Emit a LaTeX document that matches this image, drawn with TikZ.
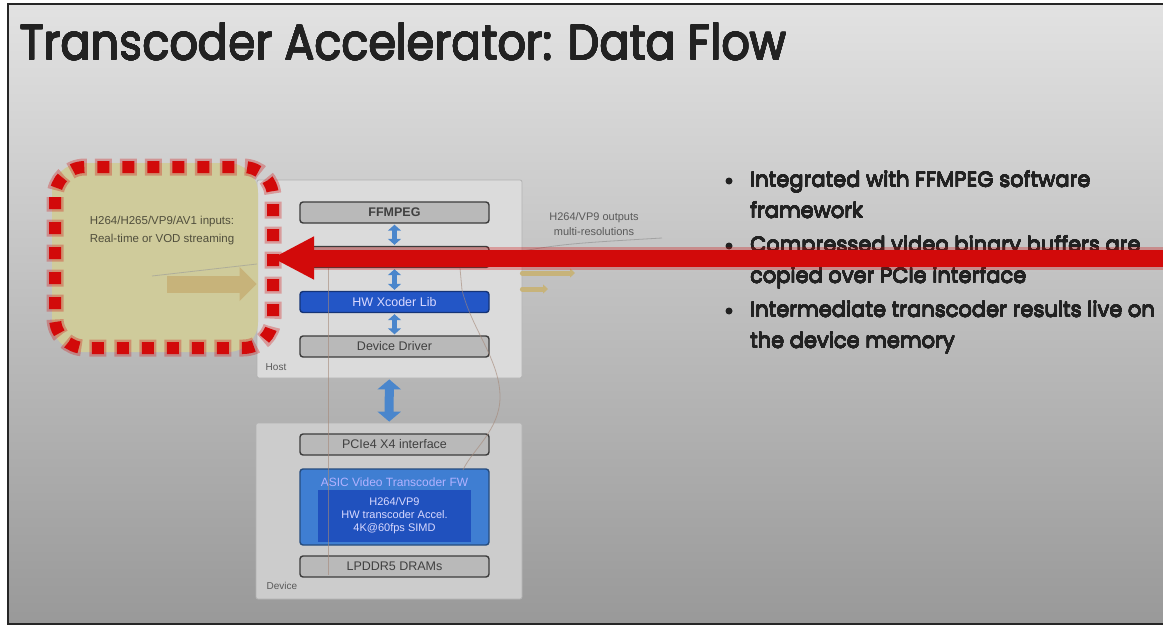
\documentclass[tikz,border=0pt]{standalone}
\usepackage{fontspec}
\usepackage{contour}
\setmainfont{Liberation Sans}
\newfontfamily\titlefont[FakeStretch=0.9]{Poppins}
\newfontfamily\bulletfont{Poppins}
\usetikzlibrary{arrows.meta}
\definecolor{slidetop}{HTML}{E2E2E2}
\definecolor{slidemid}{HTML}{CDCDCD}
\definecolor{slidebot}{HTML}{999999}
\definecolor{slidetext}{HTML}{222222}
\definecolor{boxgray}{HTML}{B9B9B9}
\definecolor{boxedge}{HTML}{3C3C3C}
\definecolor{hwblue}{HTML}{2356C6}
\definecolor{asicblue}{HTML}{3F7ED2}
\definecolor{accelblue}{HTML}{2051BE}
\definecolor{linkblue}{HTML}{4A86CC}
\definecolor{inputfill}{HTML}{CFCB9B}
\definecolor{tanfill}{HTML}{C7B37A}
\definecolor{flowline}{HTML}{A58878}
\definecolor{alertred}{HTML}{D20A0A}
\tikzstyle{graybox}=[draw=boxedge, fill=boxgray, line width=1.4pt, rounded corners=3pt, minimum width=189pt, minimum height=21pt, inner sep=0pt, text=black!75, font=\fontsize{12.5}{14}\selectfont]
\tikzstyle{bluebox}=[graybox, fill=hwblue, draw=hwblue!60!black, text=blue!15!white]
\tikzstyle{framebox}=[draw=black!30, line width=0.8pt, rounded corners=2pt, inner sep=0pt]
\tikzstyle{smalltext}=[inner sep=0pt, font=\fontsize{10.5}{14}\selectfont, align=center]
\tikzstyle{link}=[draw=linkblue, line width=4.5pt, arrows={Triangle[width=13pt,length=6pt]-Triangle[width=13pt,length=6pt]}, shorten <=1pt, shorten >=1pt]
\tikzstyle{tanarrow}=[draw=tanfill, line width=5pt, line cap=round, -{Triangle[width=9pt,length=5pt]}]
\tikzstyle{flow}=[draw=flowline, line width=0.8pt, opacity=0.6]
\tikzstyle{bullettext}=[inner sep=0pt, text=slidetext, font=\bulletfont\fontsize{21}{24}\selectfont]

\begin{document}
\begin{tikzpicture}[x=1pt,y=-1pt]
\useasboundingbox (0,0) rectangle (1163,626);
% slide background and frame
\fill[white] (0,0) rectangle (1163,626);
\shade[top color=slidetop, middle color=slidemid, bottom color=slidebot] (8,4) rectangle (1163,624);
\draw[line width=2pt, black!85] (1163,4) -- (8,4) -- (8,624) -- (1163,624);
\contourlength{0.45pt}
\node[anchor=base west, inner sep=0pt, text=slidetext, font=\titlefont\fontsize{49.5}{60}\selectfont] (title) at (20,60) {\contour{slidetext}{Transcoder Accelerator: Data Flow}};

% host side
\node[framebox, fill=black!14, minimum width=265pt, minimum height=198pt] (host) at (389.5,279) {};
\node[smalltext, text=black!65, font=\fontsize{10}{11}\selectfont] (hostlabel) at (276,367) {Host};
\node[graybox] (ffmpeg) at (394.5,212.5) {\bfseries FFMPEG};
\node[graybox] (xcoderapi) at (394.5,257) {};
\node[bluebox] (hwlib) at (394.5,302) {HW Xcoder Lib};
\node[graybox] (driver) at (394.5,346.5) {Device Driver};
\draw[link] (ffmpeg) -- (xcoderapi);
\draw[link] (xcoderapi) -- (hwlib);
\draw[link] (hwlib) -- (driver);

% device side
\node[framebox, fill=black!20, minimum width=266pt, minimum height=176pt] (device) at (389,511) {};
\node[smalltext, text=black!65, font=\fontsize{10}{11}\selectfont] (devicelabel) at (282,586) {Device};
\node[graybox] (pcie) at (394.5,444.5) {PCIe4 X4 interface};
\node[graybox, fill=asicblue, draw=asicblue!60!black, minimum height=76pt] (asic) at (394.5,507) {};
\node[smalltext, text=blue!30!white, font=\fontsize{12}{13}\selectfont] (asictitle) at (394.5,482) {ASIC Video Transcoder FW};
\node[fill=accelblue, minimum width=153pt, minimum height=52pt, inner sep=0pt, align=center, text=blue!15!white, font=\fontsize{11}{13}\selectfont] (accel) at (394.5,516) {H264/VP9\\HW transcoder Accel.\\4K@60fps SIMD};
\node[graybox] (lpddr) at (394.5,566.5) {LPDDR5 DRAMs};
\draw[link, line width=9pt, arrows={Triangle[width=23pt,length=10pt]-Triangle[width=23pt,length=10pt]}] (host) -- (device);

% outputs
\node[smalltext, text=black!65, font=\fontsize{11}{15.5}\selectfont] (outlabel) at (594,224) {H264/VP9 outputs\\multi-resolutions};
\coordinate (outA) at (575,273);
\coordinate (outB) at (548,289);
\coordinate (outend) at (662,238);
\draw[tanarrow] (host.east |- outA) -- (outA);
\draw[tanarrow] (host.east |- outB) -- (outB);
\draw[flow, draw=black!45] (xcoderapi.east) .. controls (560,244) .. (outend);

% data paths
\coordinate (pathtop) at (328,268);
\coordinate (pathbot) at (328,575);
\draw[flow] (pathtop) -- (pathbot);
\draw[flow] (460,268) -- (462,290) .. controls (472,330) and (500,360) .. (500,397) .. controls (500,430) and (472,450) .. (463,470);

% input streams
\fill[inputfill, rounded corners=30pt] (52,163) rectangle (258,352);
\node[smalltext, text=black!45!inputfill!70!black, font=\fontsize{11.5}{18}\selectfont] (inlabel) at (162,231) {H264/H265/VP9/AV1 inputs:\\Real-time or VOD streaming};
\coordinate (feed) at (152,276);
\coordinate (feedend) at (257,264);
\draw[flow, draw=black!40] (feed) -- (feedend);
\coordinate (instart) at (167,284);
\draw[draw=tanfill, line width=17pt, -{Triangle[width=33pt,length=17pt]}] (instart) -- (host.west |- instart);

% highlight around the inputs
\draw[alertred, opacity=0.3, line width=17pt, dash pattern=on 17pt off 8pt, dash phase=2.5pt, rounded corners=30pt] (55,167) rectangle (273,348);
\draw[alertred, line width=12pt, dash pattern=on 12pt off 13pt, rounded corners=30pt] (55,167) rectangle (273,348);

% bullet list
\contourlength{0.15pt}
\foreach \y/\txt [count=\i] in {187/Integrated with FFMPEG software, 218/framework, 252/Compressed video binary buffers are, 283/copied over PCIe interface, 317/Intermediate transcoder results live on, 348/the device memory} {
	\node[bullettext, anchor=base west] (line\i) at (750,\y) {\contour{slidetext}{\txt}};
}
\foreach \y in {181,246,311} {
	\fill[slidetext] (729,\y) circle (3.5pt);
}

% incoming copy over PCIe
\coordinate (redstart) at (1163,258);
\coordinate (redtip) at (272,258);
\draw[alertred, opacity=0.3, line width=23pt] (redstart) -- (305,258);
\draw[alertred, line width=17pt, -{Triangle[width=40pt,length=42pt]}] (redstart) -- (redtip);
\end{tikzpicture}
\end{document}
